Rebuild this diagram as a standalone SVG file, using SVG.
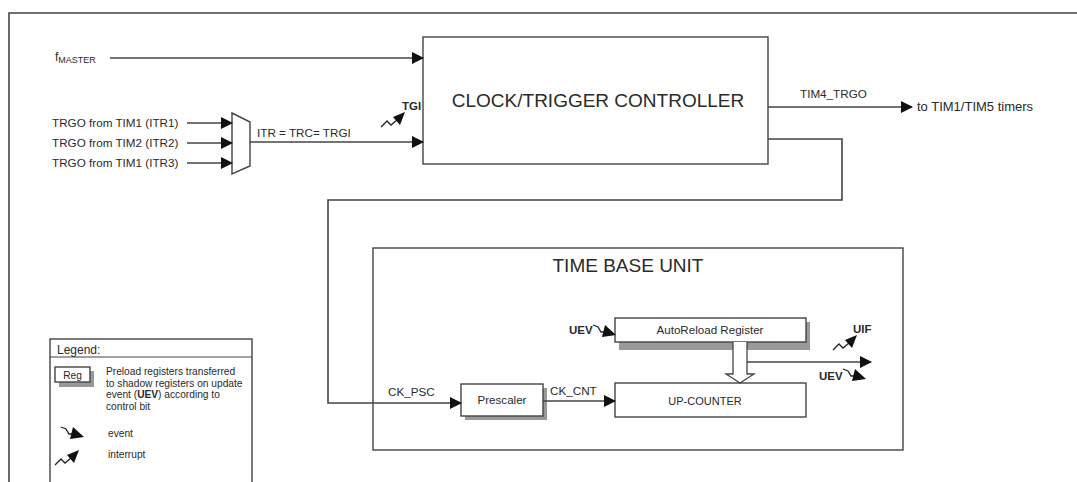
<svg xmlns="http://www.w3.org/2000/svg" width="1077" height="482" viewBox="0 0 1077 482">
<style>
text{font-family:"Liberation Sans",Arial,sans-serif;fill:#2a2a2a}
.s{font-size:11.7px}
.m{font-size:11.6px}
.l{font-size:19px}
.b{font-weight:bold;font-size:11.5px}
.g{font-size:10.2px}
.ln{fill:none;stroke:#444;stroke-width:1.6}
.box{fill:#fff;stroke:#444;stroke-width:1.4}
.sh{fill:#999}
</style>
<defs>
<marker id="ah" markerWidth="12" markerHeight="12" refX="11" refY="6" orient="auto" markerUnits="userSpaceOnUse">
<path d="M0,0 L12,6 L0,12 Z" fill="#111"/>
</marker>
<g id="ev">
<path d="M0,0 L5,2 L8,7 L13,7" fill="none" stroke="#222" stroke-width="1.3"/>
<path d="M12,0 L23,10 L9,12 Z" fill="#111"/>
</g>
<g id="it">
<path d="M0,12 L6,6 L10,10 L16,5" fill="none" stroke="#222" stroke-width="1.3"/>
<path d="M12,2 L24,-3 L19,10 Z" fill="#111"/>
</g>
</defs>
<rect width="1077" height="482" fill="#fff"/>
<!-- outer frame -->
<path d="M9,482 V13 H1077" class="ln"/>

<g id="fmaster"><text x="55" y="61" font-size="12">f<tspan font-size="9" dy="2">MASTER</tspan></text></g>
<g id="inputs">
<text x="52" y="127" class="s">TRGO from TIM1 (ITR1)</text>
<text x="52" y="147" class="s">TRGO from TIM2 (ITR2)</text>
<text x="52" y="167" class="s">TRGO from TIM1 (ITR3)</text>
</g>
<g id="mux"><path d="M232,113 L250,122 L250,166 L232,174 Z" class="box"/></g>
<text x="257" y="137" class="s">ITR = TRC= TRGI</text>

<g id="controller">
<rect x="423" y="37" width="345" height="127" class="box"/>
<text x="598" y="107" class="l" text-anchor="middle">CLOCK/TRIGGER CONTROLLER</text>
</g>
<g id="tgi">
<use href="#it" x="381" y="115"/>
<text x="402" y="110" class="b">TGI</text>
</g>
<text x="800" y="98" class="s">TIM4_TRGO</text>
<text x="917" y="111" font-size="13">to TIM1/TIM5 timers</text>

<g id="timebase">
<rect x="373" y="248" width="530" height="202" class="box"/>
<text x="628" y="272" class="l" text-anchor="middle">TIME BASE UNIT</text>
</g>

<g id="autoreload">
<rect x="619" y="322" width="191" height="28" class="sh"/>
<rect x="615" y="318" width="191" height="24" class="box"/>
<text x="710" y="334" class="m" text-anchor="middle">AutoReload Register</text>
</g>
<g id="uev1">
<text x="569" y="334" class="b">UEV</text>
<use href="#ev" x="593" y="325"/>
</g>

<g id="prescaler">
<rect x="465" y="388" width="82" height="32" class="sh"/>
<rect x="461" y="384" width="82" height="32" class="box"/>
<text x="502" y="404" class="m" text-anchor="middle">Prescaler</text>
</g>
<text x="388" y="396" class="s">CK_PSC</text>
<text x="550" y="395" class="s">CK_CNT</text>

<g id="upcounter">
<rect x="615" y="383" width="191" height="34" class="box"/>
<text x="705" y="405" font-size="11" text-anchor="middle">UP-COUNTER</text>
</g>

<g id="hollowarrow">
<path d="M733,342 V374 H726 L740,383 L754,374 H747 V342" fill="#fff" stroke="#444" stroke-width="1.3"/>
</g>

<g id="uif">
<use href="#it" x="833" y="338"/>
<text x="853" y="333" class="b">UIF</text>
</g>
<g id="uev2">
<text x="819" y="380" class="b">UEV</text>
<use href="#ev" x="843" y="369"/>
</g>

<g id="legend">
<rect x="50" y="339" width="202" height="150" class="box"/>
<line x1="50" y1="357" x2="252" y2="357" stroke="#444" stroke-width="1.2"/>
<text x="57" y="354" font-size="12">Legend:</text>
<rect x="59" y="371" width="35" height="16" class="sh"/>
<rect x="55" y="367" width="35" height="15" class="box"/>
<text x="72.5" y="379" class="g" text-anchor="middle">Reg</text>
<text x="106" y="375" class="g">Preload registers transferred</text>
<text x="106" y="386.5" class="g">to shadow registers on update</text>
<text x="106" y="398" class="g">event (<tspan font-weight="bold">UEV</tspan>) according to</text>
<text x="106" y="409.5" class="g">control bit</text>
<use href="#ev" x="61" y="427"/>
<text x="108" y="437" class="g">event</text>
<use href="#it" x="55" y="453"/>
<text x="108" y="458" class="g">interrupt</text>
</g>

<g id="connectors">
<path d="M110,58 H423" class="ln" marker-end="url(#ah)"/>
<path d="M187,123 H232" class="ln" marker-end="url(#ah)"/>
<path d="M187,143 H232" class="ln" marker-end="url(#ah)"/>
<path d="M187,163 H232" class="ln" marker-end="url(#ah)"/>
<path d="M250,142 H423" class="ln" marker-end="url(#ah)"/>
<path d="M768,107 H912" class="ln" marker-end="url(#ah)"/>
<path d="M768,139 H842 V200 H328 V403 H461" class="ln" marker-end="url(#ah)"/>
<path d="M543,401 H615" class="ln" marker-end="url(#ah)"/>
<path d="M747,362 H871" class="ln" marker-end="url(#ah)"/>
</g>
</svg>
